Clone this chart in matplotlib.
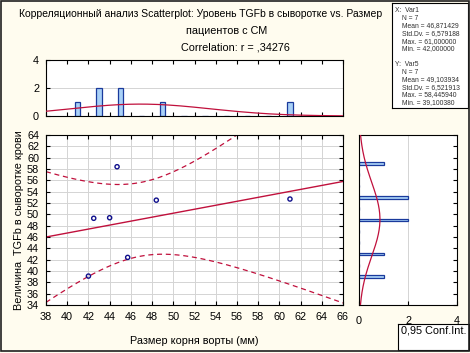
import numpy as np
import matplotlib
matplotlib.use('Agg')
import matplotlib.pyplot as plt
from matplotlib.patches import Rectangle

plt.rcParams['font.family'] = ['Liberation Sans', 'DejaVu Sans']

aorta_mm = [42.0, 42.5, 44.0, 44.7, 45.7, 48.4, 61.0]
tgfb = [39.1, 49.3, 49.4, 58.4, 42.4, 52.5, 52.7]

# histogram counts (bins of width 2)
x_bins = [41, 43, 45, 47, 49, 51, 53, 55, 57, 59, 61]
x_counts = [1, 2, 2, 0, 1, 0, 0, 0, 0, 0, 1]
y_bins = [39, 41, 43, 45, 47, 49, 51, 53, 55, 57, 59]
y_counts = [1, 0, 1, 0, 0, 2, 0, 2, 0, 0, 1]

stats_head = ["X:  Var1", "Y:  Var5"]
stats_x = ["N = 7", "Mean = 46,871429", "Std.Dv. = 6,579188", "Max. = 61,000000", "Min. = 42,000000"]
stats_y = ["N = 7", "Mean = 49,103934", "Std.Dv. = 6,521913", "Max. = 58,445940", "Min. = 39,100380"]

bg = '#fffcef'
red = '#c0103c'
bar_face = '#a9d1f7'
bar_edge = '#1a3a9c'
grid_c = '#d4d4d4'
fs = 7.8

x = np.array(aorta_mm)
y = np.array(tgfb)
n = len(x)

fig = plt.figure(figsize=(4.7, 3.53), dpi=100, facecolor=bg)
W, H = 470, 353

def ax_px(l, t, r, b):
    return fig.add_axes([l / W, (H - b) / H, (r - l) / W, (b - t) / H])

# frame around the whole picture
fig.patches.append(Rectangle((0.003, 0.006), 0.994, 0.99, transform=fig.transFigure,
                             fill=False, edgecolor='#202020', linewidth=1.2))

# title
fig.text(201 / W, 1 - 14 / H, "Корреляционный анализ Scatterplot: Уровень TGFb в сыворотке vs. Размер",
         ha='center', va='center', fontsize=7.5)
fig.text(227 / W, 1 - 31 / H, "пациентов с СМ", ha='center', va='center', fontsize=fs)
fig.text(235 / W, 1 - 48 / H, "Correlation: r = ,34276", ha='center', va='center', fontsize=fs)

# main scatter
ax = ax_px(46, 135, 343, 305)
ax.set_facecolor('white')
slope, icpt = np.polyfit(x, y, 1)
xs = np.linspace(38, 66, 200)
fit = icpt + slope * xs
resid = y - (icpt + slope * x)
s = np.sqrt(np.sum(resid ** 2) / (n - 2))
sxx = np.sum((x - x.mean()) ** 2)
t975 = 2.5706
half = t975 * s * np.sqrt(1.0 / n + (xs - x.mean()) ** 2 / sxx)
ax.plot(xs, fit, color=red, lw=1.0)
ax.plot(xs, fit + half, color=red, lw=0.9, ls=(0, (4, 3)))
ax.plot(xs, fit - half, color=red, lw=0.9, ls=(0, (4, 3)))
ax.scatter(x, y, s=9, facecolors='none', edgecolors='#10108c', linewidths=1.0, zorder=3)
ax.set_xlim(38, 66)
ax.set_ylim(34, 64)
ax.set_xticks(np.arange(38, 67, 2))
ax.set_yticks(np.arange(34, 65, 2))
ax.grid(True, color=grid_c, lw=0.7)
ax.set_axisbelow(True)
ax.tick_params(direction='in', top=True, right=True, labelsize=fs, length=3, pad=5)
ax.set_xlabel("Размер корня ворты (мм)", fontsize=fs, labelpad=10)
ax.set_ylabel("Величина  TGFb в сыворотке крови", fontsize=fs, labelpad=2)

# top histogram
axt = ax_px(46, 60, 343, 116)
axt.set_facecolor('white')
axt.bar(x_bins, x_counts, width=0.5, color=bar_face, edgecolor=bar_edge, linewidth=0.9, zorder=2)
dens = 2 * n * np.exp(-0.5 * ((xs - x.mean()) / x.std(ddof=1)) ** 2) / (x.std(ddof=1) * np.sqrt(2 * np.pi))
axt.plot(xs, dens, color=red, lw=0.9, zorder=3)
axt.set_xlim(38, 66)
axt.set_ylim(0, 4)
axt.set_yticks([0, 2, 4])
axt.set_xticks(np.arange(38, 67, 2))
axt.set_xticklabels([])
axt.yaxis.grid(True, color=grid_c, lw=0.7)
axt.set_axisbelow(True)
axt.tick_params(direction='in', top=True, labelsize=fs, length=3, pad=5)

# right histogram
axr = ax_px(359, 135, 457, 305)
axr.set_facecolor('white')
axr.barh(y_bins, y_counts, height=0.5, color=bar_face, edgecolor=bar_edge, linewidth=0.9, zorder=2)
ys = np.linspace(34, 64, 200)
dens_y = 2 * n * np.exp(-0.5 * ((ys - y.mean()) / y.std(ddof=1)) ** 2) / (y.std(ddof=1) * np.sqrt(2 * np.pi))
axr.plot(dens_y, ys, color=red, lw=0.9, zorder=3)
axr.set_ylim(34, 64)
axr.set_xlim(0, 4)
axr.set_xticks([0, 2, 4])
axr.set_yticks(np.arange(34, 65, 2))
axr.set_yticklabels([])
axr.xaxis.grid(True, color=grid_c, lw=0.7)
axr.set_axisbelow(True)
axr.tick_params(direction='in', right=True, left=False, labelsize=fs, length=3, pad=8)

# stats box
axs = ax_px(392, 3, 468, 108)
axs.set_facecolor('white')
axs.set_xticks([])
axs.set_yticks([])
row = 0.073
for k, (head, lines) in enumerate([(stats_head[0], stats_x), (stats_head[1], stats_y)]):
    top = 0.96 - k * 7 * row
    axs.text(0.04, top, head, transform=axs.transAxes, fontsize=4.9, va='top', ha='left', color='#303030')
    for i, line in enumerate(lines):
        axs.text(0.13, top - (i + 1) * row, line, transform=axs.transAxes, fontsize=4.9,
                 va='top', ha='left', color='#303030')

# confidence interval box
axc = ax_px(398, 324, 469, 350)
axc.set_facecolor('white')
axc.set_xticks([])
axc.set_yticks([])
axc.text(0.04, 0.75, "0,95 Conf.Int.", transform=axc.transAxes, fontsize=fs, va='center', ha='left')

fig.savefig('out.png', dpi=100, facecolor=bg)
